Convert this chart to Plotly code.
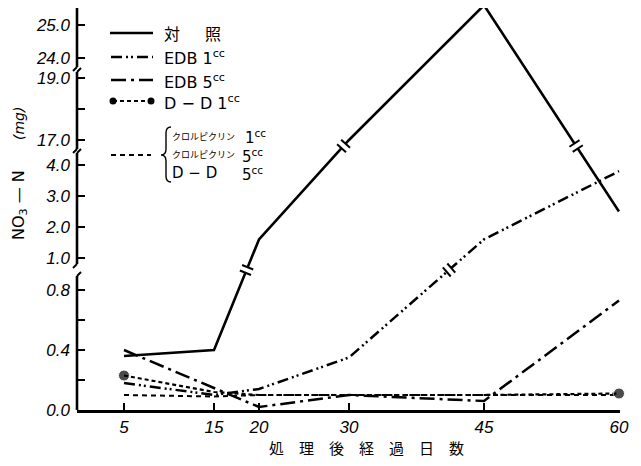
import math
import plotly.graph_objects as go

# ---------------- data ----------------
days = [5, 15, 20, 30, 45, 60]
control = [0.36, 0.40, 1.6, 17.0, 25.6, 2.5]          # 対照
edb_1cc = [0.18, 0.10, 0.14, 0.35, 1.6, 3.8]          # EDB 1cc
edb_5cc = [0.40, 0.15, 0.02, 0.10, 0.06, 0.73]        # EDB 5cc
dd_1cc = [0.23, 0.12, 0.10, 0.10, 0.10, 0.11]         # D-D 1cc
chloro_dd5 = [0.10, 0.09, 0.10, 0.10, 0.10, 0.10]     # クロルピクリン 1cc/5cc, D-D 5cc

x_tick_values = [5, 15, 20, 30, 45, 60]
x_tick_labels = ["5", "15", "20", "30", "45", "60"]
y_tick_values = [0.0, 0.4, 0.8, 1.0, 2.0, 3.0, 4.0, 17.0, 19.0, 24.0, 25.0]
y_tick_labels = ["0.0", "0.4", "0.8", "1.0", "2.0", "3.0", "4.0", "17.0", "19.0", "24.0", "25.0"]
y_minor_values = [0.2, 0.6, 18.0]

# ---------------- broken y axis (piecewise linear scale) ----------------
def brk(v):
    if v <= 0.9:
        return 150.0 * v
    if v <= 5.0:
        return 152.0 + 31.0 * (v - 1.0)
    if v <= 20.0:
        return 270.0 + 31.0 * (v - 17.0)
    return 352.0 + 33.0 * (v - 24.0)

BREAK_LEVELS = [140.0, 264.0]

# ---------------- geometry (page body has an 8px margin) ----------------
OFF = 8
W, H = 625, 450
ML, MR, MT = 69, 13, 0
PW = W - ML - MR          # 543
PH = 402
MB = H - MT - PH
X0 = 5 - 47 / 9.0
X1 = X0 + PW / 9.0
SX = PW / (X1 - X0)

def P(x, y):
    """reference-pixel -> paper coordinates (for decorations)"""
    return ((x - OFF - ML) / PW, (MT + PH - (y - OFF)) / PH)

fig = go.Figure()

def add_series(vals, dash, width, sizes=None):
    tr = dict(x=days, y=[brk(v) for v in vals], mode="lines",
              line=dict(color="black", width=width, dash=dash),
              showlegend=False, hoverinfo="skip", cliponaxis=False)
    if sizes is not None:
        tr["mode"] = "lines+markers"
        tr["marker"] = dict(color="black", size=sizes)
    fig.add_trace(go.Scatter(**tr))

n = len(days)
add_series(chloro_dd5, "5px,4px", 2.0)
add_series(dd_1cc, "4px,3px", 2.2, sizes=[11 if i in (0, n - 1) else 0 for i in range(n)])
add_series(edb_5cc, "15px,5px,3px,5px", 2.5)
add_series(edb_1cc, "11px,4px,2px,3px,2px,4px", 2.5)
add_series(control, "solid", 2.6)

shapes = []

# break marks on lines crossing the axis breaks
for vals in (control, edb_1cc, edb_5cc, dd_1cc, chloro_dd5):
    d = [brk(v) for v in vals]
    for i in range(n - 1):
        for lv in BREAK_LEVELS:
            if (d[i] - lv) * (d[i + 1] - lv) < 0:
                t = (lv - d[i]) / (d[i + 1] - d[i])
                xc = days[i] + t * (days[i + 1] - days[i])
                ax = (days[i + 1] - days[i]) * SX
                ay = d[i + 1] - d[i]
                nn = math.hypot(ax, ay)
                ux, uy = ax / nn, ay / nn
                px_, py_ = -uy, ux
                shapes.append(dict(type="line", xref="x", yref="y",
                                   x0=xc - 3 * ux / SX, y0=lv - 3 * uy,
                                   x1=xc + 3 * ux / SX, y1=lv + 3 * uy,
                                   line=dict(color="white", width=6), layer="above"))
                for s in (-3, 3):
                    cx, cy = xc + s * ux / SX, lv + s * uy
                    shapes.append(dict(type="line", xref="x", yref="y",
                                       x0=cx - 6 * px_ / SX, y0=cy - 6 * py_,
                                       x1=cx + 6 * px_ / SX, y1=cy + 6 * py_,
                                       line=dict(color="black", width=2), layer="above"))

# hand-drawn broken y axis line
segments = [(0, 134), (146, 257), (261, 338), (343, 402)]
dxp = 4 / PW
for i, (a, b) in enumerate(segments):
    shapes.append(dict(type="line", xref="paper", yref="y", x0=0, x1=0, y0=a, y1=b,
                       line=dict(color="black", width=2.6)))
    if i < len(segments) - 1:
        shapes.append(dict(type="line", xref="paper", yref="y", x0=0, x1=dxp, y0=b, y1=b + 4,
                           line=dict(color="black", width=2)))
    if i > 0:
        shapes.append(dict(type="line", xref="paper", yref="y", x0=0, x1=-dxp, y0=a, y1=a - 4,
                           line=dict(color="black", width=2)))

# ---------------- legend (drawn) ----------------
def seg(x0, x1, y, dash, width):
    a = P(x0, y); b = P(x1, y)
    shapes.append(dict(type="line", xref="paper", yref="paper", x0=a[0], y0=a[1], x1=b[0], y1=b[1],
                       line=dict(color="black", width=width, dash=dash)))

seg(110, 153, 33, "solid", 2.6)
seg(111, 153, 57, "11px,4px,2px,3px,2px,4px", 2.3)
seg(111, 153, 80, "15px,5px,3px,5px", 2.3)
seg(113, 151, 101, "4px,3px", 2.2)
for cx in (113, 151):
    a = P(cx - 3.5, 104.5); b = P(cx + 3.5, 97.5)
    shapes.append(dict(type="circle", xref="paper", yref="paper", x0=a[0], y0=a[1], x1=b[0], y1=b[1],
                       fillcolor="black", line=dict(color="black", width=0)))
seg(111, 151, 155, "5px,4px", 2.0)

bp = [(171, 127), (166, 127), (166, 133), (166, 149), (166, 155), (161, 155),
      (166, 155), (166, 161), (166, 176), (166, 182), (171, 182)]
pp = [P(*q) for q in bp]
path = ("M {0[0]},{0[1]} Q {1[0]},{1[1]} {2[0]},{2[1]} L {3[0]},{3[1]} Q {4[0]},{4[1]} {5[0]},{5[1]} "
        "Q {6[0]},{6[1]} {7[0]},{7[1]} L {8[0]},{8[1]} Q {9[0]},{9[1]} {10[0]},{10[1]}").format(*pp)
shapes.append(dict(type="path", xref="paper", yref="paper", path=path,
                   line=dict(color="black", width=1.4)))

annotations = []
def txt(x, y, s, size=16, family="DejaVu Sans", xanchor="left", angle=0, style="normal"):
    p = P(x, y)
    annotations.append(dict(x=p[0], y=p[1], xref="paper", yref="paper", text=s, showarrow=False,
                            xanchor=xanchor, yanchor="middle", textangle=angle, borderpad=0,
                            font=dict(family=family, size=size, color="black", style=style)))

cjk = "Noto Sans CJK JP"
txt(172, 33, "対", 16, cjk, "center")
txt(213, 33, "照", 16, cjk, "center")
txt(163, 58, "EDB 1<sup>cc</sup>", 16)
txt(163, 81, "EDB 5<sup>cc</sup>", 16)
txt(163, 102, "D − D 1<sup>cc</sup>", 16)
txt(171, 136, "クロルピクリン", 9, cjk)
txt(244, 137, "1<sup>cc</sup>", 15)
txt(171, 154, "クロルピクリン", 9, cjk)
txt(241, 156, "5<sup>cc</sup>", 15)
txt(171, 173, "D − D", 15)
txt(241, 174, "5<sup>cc</sup>", 15)

# axis titles
txt(19, 205, "NO<sub>3</sub> — N", 16, "DejaVu Sans", "center", -90)
txt(19, 124, "(mg)", 14, "DejaVu Sans", "center", -90, "italic")
txt(366, 447, "処　理　後　経　過　日　数", 15, cjk, "center")

fig.update_layout(
    width=W, height=H,
    margin=dict(l=ML, r=MR, t=MT, b=MB, pad=0, autoexpand=False),
    paper_bgcolor="white", plot_bgcolor="white",
    shapes=shapes, annotations=annotations,
    xaxis=dict(range=[X0, X1], showgrid=False, zeroline=False, showline=True,
               linecolor="black", linewidth=2.6, ticks="inside", ticklen=7, tickwidth=2,
               tickcolor="black", tickvals=x_tick_values, ticktext=x_tick_labels,
               tickfont=dict(family="Liberation Sans", size=17, color="black", style="italic"),
               ticklabelstandoff=0, automargin=False),
    yaxis=dict(range=[0, PH], showgrid=False, zeroline=False, showline=False,
               ticks="inside", ticklen=8, tickwidth=2, tickcolor="black",
               tickvals=[brk(v) for v in y_tick_values], ticktext=y_tick_labels,
               minor=dict(tickmode="array", tickvals=[brk(v) for v in y_minor_values],
                          ticks="inside", ticklen=8, tickwidth=2, tickcolor="black"),
               tickfont=dict(family="Liberation Sans", size=17, color="black", style="italic"),
               ticklabelstandoff=6, automargin=False),
)

fig.write_html("out.html")
